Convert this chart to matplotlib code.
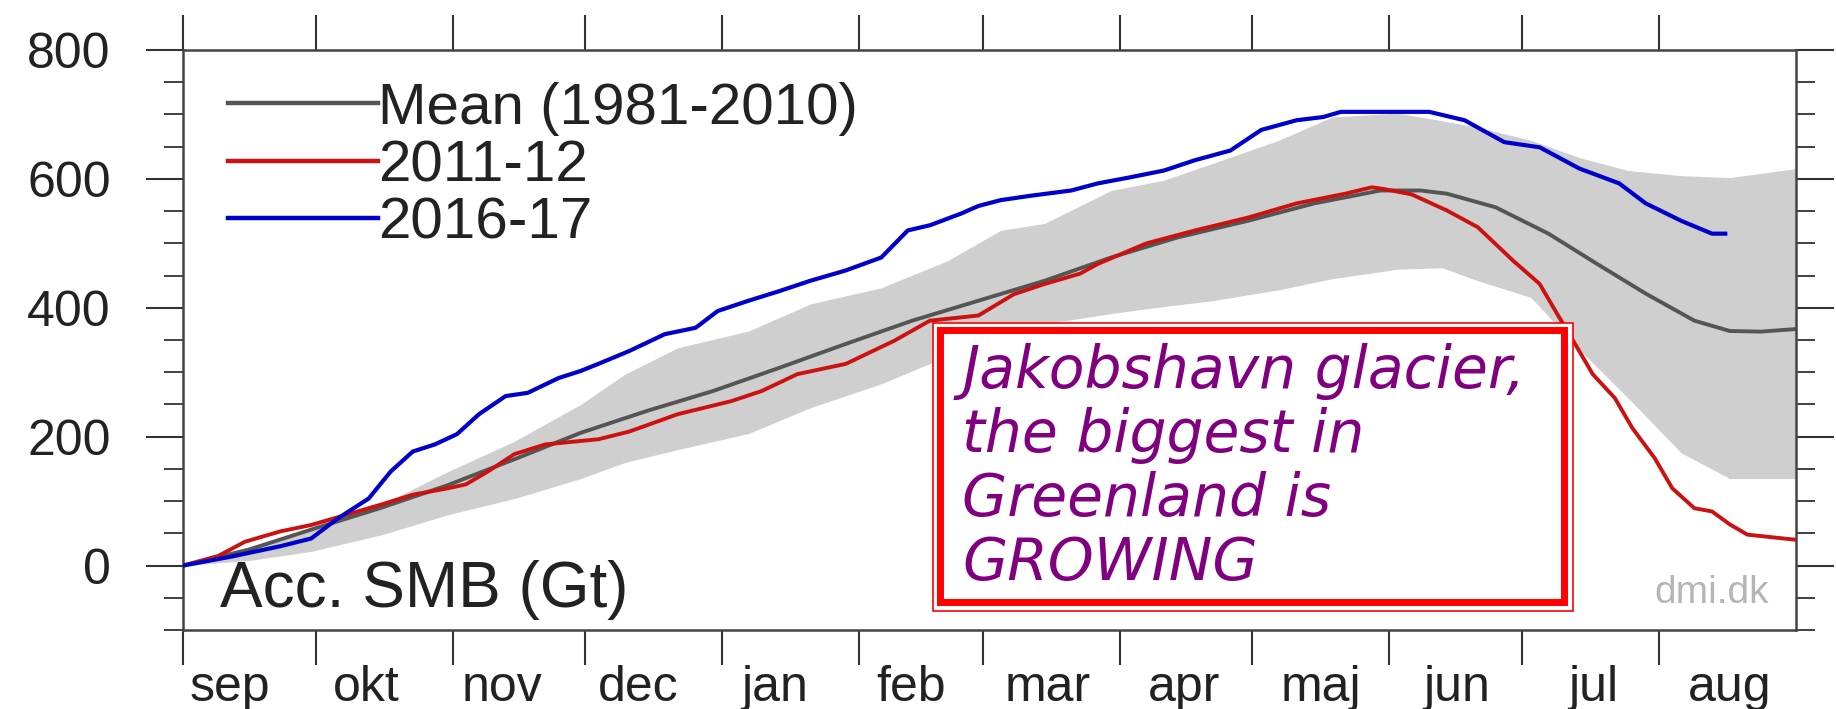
import numpy as np
import matplotlib.pyplot as plt
from matplotlib.patches import Rectangle

plt.rcParams['font.family'] = ['Liberation Sans', 'DejaVu Sans']

# months of the SMB season (sep -> aug)
month_names = ['sep', 'okt', 'nov', 'dec', 'jan', 'feb', 'mar', 'apr', 'maj', 'jun', 'jul', 'aug']
month_len = [30, 31, 30, 31, 31, 28, 31, 30, 31, 30, 31, 31]

# grey band (spread of 1981-2010), day of season vs Gt
band_day = [0, 15, 29, 45, 60, 75, 90, 100, 112, 128, 142, 158, 173, 185, 195, 210, 222, 233,
            248, 260, 275, 285, 293, 305, 316, 327, 339, 350, 365]
band_hi = [0, 25, 58, 95, 146, 193, 250, 297, 338, 364, 406, 431, 473, 520, 531, 582, 598, 624,
           660, 696, 702, 690, 680, 660, 633, 613, 605, 602, 616]
band_lo = [0, 8, 22, 48, 79, 104, 135, 160, 180, 205, 245, 282, 325, 364, 375, 391, 402, 411,
           428, 445, 460, 462, 442, 416, 335, 260, 175, 135, 135]

# mean 1981-2010
mean_day = [0, 15, 30, 45, 60, 75, 90, 105, 120, 135, 150, 165, 180, 195, 210, 225, 241, 256,
            271, 280, 286, 297, 309, 320, 331, 342, 350, 357, 365]
mean_val = [0, 25, 58, 90, 125, 165, 206, 240, 271, 307, 344, 380, 411, 442, 478, 509, 535, 562,
            582, 582, 577, 556, 515, 468, 422, 380, 364, 363, 367]

# season 2011-12
red_day = [0, 8, 14, 22, 29, 37, 45, 52, 60, 64, 69, 75, 82, 94, 101, 112, 124, 131, 139, 150,
           161, 169, 180, 188, 195, 203, 207, 218, 229, 241, 252, 263, 269, 272, 278, 286, 293,
           301, 307, 311, 315, 319, 324, 328, 333, 337, 342, 346, 350, 354, 365]
red_val = [0, 15, 37, 53, 63, 79, 95, 110, 120, 126, 146, 173, 188, 196, 208, 235, 255, 271, 297,
           313, 349, 380, 388, 421, 437, 453, 468, 500, 520, 540, 562, 577, 587, 584, 576, 551,
           525, 473, 437, 390, 344, 297, 260, 213, 167, 120, 89, 84, 64, 48, 40]

# season 2016-17
blue_day = [0, 11, 22, 29, 35, 42, 47, 52, 57, 62, 67, 73, 78, 85, 90, 94, 101, 109, 116, 121,
            128, 135, 142, 150, 158, 164, 169, 176, 180, 185, 192, 201, 207, 214, 222, 229, 237,
            244, 252, 258, 262, 275, 282, 290, 299, 307, 316, 325, 331, 339, 346, 349]
blue_val = [0, 14, 30, 42, 73, 104, 146, 177, 188, 204, 235, 263, 268, 291, 302, 313, 333, 359,
            369, 395, 411, 426, 442, 458, 478, 520, 528, 546, 558, 567, 574, 582, 593, 602, 613,
            629, 644, 676, 691, 696, 704, 704, 704, 691, 657, 649, 616, 593, 562, 535, 515, 515]

box_lines = ['Jakobshavn glacier,', 'the biggest in', 'Greenland is', 'GROWING']

month_start = np.concatenate([[0], np.cumsum(month_len)[:-1]])
# month names sit evenly spaced under the axis
label_pos = np.linspace(10.5, 350, len(month_names))

fig = plt.figure(figsize=(18.36, 7.09), dpi=100)
ax = fig.add_axes([0.0997, 0.1114, 0.8785, 0.8181])

ax.fill_between(band_day, band_lo, band_hi, color='#cfcfcf', lw=0, zorder=1)
ax.plot(mean_day, mean_val, color='#555555', lw=2.8, label='Mean (1981-2010)', zorder=2)
ax.plot(red_day, red_val, color='#cc1111', lw=2.8, label='2011-12', zorder=3)
ax.plot(blue_day, blue_val, color='#0000cc', lw=3, label='2016-17', zorder=4)

ax.set_xlim(0, 365)
ax.set_ylim(-100, 800)

# axis styling
for s in ax.spines.values():
    s.set_color('#444444')
    s.set_linewidth(1.8)

ax.set_xticks(month_start)
ax.set_xticks(label_pos, minor=True)
ax.set_xticklabels([])
ax.set_xticklabels(month_names, minor=True)
ax.tick_params(axis='x', which='major', direction='out', top=True, length=25.5, width=1.5,
               color='#333333')
ax.tick_params(axis='x', which='minor', length=0, labelsize=36, pad=25, labelcolor='#222222')

ax.set_yticks([0, 200, 400, 600, 800])
ax.set_yticks(np.arange(-100, 801, 50), minor=True)
ax.tick_params(axis='y', which='major', direction='out', right=True, length=27, width=1.5,
               color='#333333', labelsize=36, pad=25, labelcolor='#222222')
ax.tick_params(axis='y', which='minor', direction='out', right=True, length=13.5, width=1.3,
               color='#333333')

leg = ax.legend(loc='upper left', bbox_to_anchor=(0.028, 0.945), frameon=False, fontsize=42,
                handlelength=2.57, handletextpad=0, borderpad=0, borderaxespad=0,
                labelspacing=0.06)
for line in leg.get_lines():
    line.set_linewidth(3.2)
for t in leg.get_texts():
    t.set_color('#222222')

ax.text(0.023, 0.040, 'Acc. SMB (Gt)', transform=ax.transAxes, fontsize=46, color='#222222',
        va='baseline', ha='left')
ax.text(0.983, 0.047, 'dmi.dk', transform=ax.transAxes, fontsize=28, color='#b5b5b5',
        va='baseline', ha='right')

# annotation box with double red frame
ax.add_patch(Rectangle((0.465, 0.033), 0.397, 0.496, transform=ax.transAxes,
                       facecolor='white', edgecolor='red', lw=1.2, zorder=6))
ax.add_patch(Rectangle((0.469, 0.048), 0.387, 0.469, transform=ax.transAxes,
                       fill=False, edgecolor='red', lw=5, zorder=7))
for i, txt in enumerate(box_lines):
    ax.text(0.483, 0.417 - i * 0.110, txt, transform=ax.transAxes, fontsize=42,
            family='DejaVu Sans', style='italic', color='#800080', va='baseline', ha='left',
            zorder=8)

fig.savefig('out.png', dpi=100, facecolor='white')
